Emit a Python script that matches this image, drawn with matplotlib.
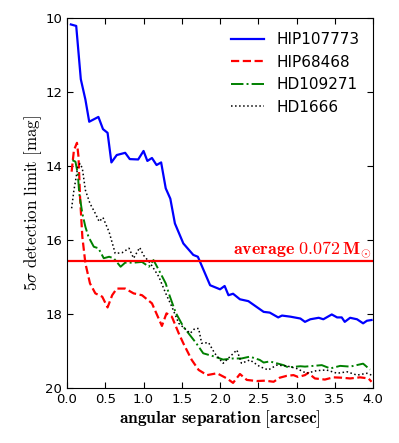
import matplotlib
matplotlib.use("Agg")
import matplotlib.pyplot as plt

plt.rcParams["mathtext.fontset"] = "cm"

# HIP107773 (blue, solid)
sep_hip107773 = [0.05, 0.12, 0.18, 0.24, 0.29, 0.41, 0.47, 0.53, 0.58, 0.65,
                 0.76, 0.82, 0.93, 1.00, 1.05, 1.11, 1.17, 1.23, 1.29, 1.35,
                 1.41, 1.52, 1.65, 1.71, 1.87, 2.00, 2.06, 2.11, 2.17, 2.26,
                 2.37, 2.57, 2.65, 2.76, 2.81, 2.92, 3.05, 3.11, 3.18, 3.29,
                 3.35, 3.46, 3.53, 3.59, 3.63, 3.70, 3.79, 3.87, 3.92, 3.98]
mag_hip107773 = [10.17, 10.21, 11.65, 12.20, 12.80, 12.67, 13.00, 13.10, 13.90, 13.70,
                 13.64, 13.81, 13.82, 13.59, 13.86, 13.78, 13.97, 13.90, 14.60, 14.88,
                 15.55, 16.09, 16.40, 16.45, 17.22, 17.33, 17.24, 17.49, 17.45, 17.60,
                 17.65, 17.94, 17.96, 18.09, 18.04, 18.07, 18.12, 18.21, 18.14, 18.10,
                 18.14, 18.01, 18.09, 18.09, 18.21, 18.10, 18.14, 18.25, 18.18, 18.16]

# HIP68468 (red, dashed)
sep_hip68468 = [0.06, 0.09, 0.13, 0.15, 0.17, 0.20, 0.24, 0.30, 0.37, 0.46,
                0.53, 0.59, 0.65, 0.76, 0.87, 0.98, 1.11, 1.24, 1.30, 1.37,
                1.46, 1.52, 1.63, 1.72, 1.83, 1.96, 2.09, 2.17, 2.26, 2.35,
                2.48, 2.59, 2.70, 2.78, 2.87, 2.96, 3.02, 3.11, 3.15, 3.24,
                3.37, 3.48, 3.59, 3.70, 3.83, 3.94, 3.98]
mag_hip68468 = [14.15, 13.57, 13.37, 13.75, 14.83, 15.91, 16.63, 17.17, 17.44, 17.53,
                17.82, 17.49, 17.31, 17.31, 17.44, 17.49, 17.71, 18.32, 17.98, 18.07,
                18.52, 18.79, 19.24, 19.51, 19.65, 19.60, 19.74, 19.86, 19.62, 19.78,
                19.81, 19.80, 19.83, 19.72, 19.67, 19.65, 19.70, 19.65, 19.59, 19.74,
                19.77, 19.71, 19.72, 19.74, 19.71, 19.74, 19.83]

# HD109271 (green, dash-dot)
sep_hd109271 = [0.07, 0.11, 0.14, 0.16, 0.20, 0.24, 0.28, 0.35, 0.41, 0.48,
                0.55, 0.61, 0.70, 0.76, 0.87, 0.98, 1.07, 1.13, 1.20, 1.29,
                1.33, 1.42, 1.52, 1.69, 1.78, 1.93, 2.04, 2.17, 2.28, 2.39,
                2.52, 2.57, 2.65, 2.83, 2.89, 3.05, 3.11, 3.22, 3.33, 3.44,
                3.57, 3.70, 3.87, 3.96]
mag_hd109271 = [13.84, 13.88, 14.20, 14.74, 15.28, 15.64, 15.91, 16.18, 16.22, 16.49,
                16.45, 16.49, 16.72, 16.61, 16.61, 16.59, 16.72, 16.54, 16.81, 17.17,
                17.44, 17.96, 18.34, 18.79, 19.06, 19.15, 19.23, 19.20, 19.20, 19.15,
                19.24, 19.31, 19.28, 19.38, 19.44, 19.41, 19.42, 19.40, 19.38, 19.47,
                19.40, 19.42, 19.34, 19.50]

# HD1666 (black, dotted)
sep_hd1666 = [0.06, 0.09, 0.12, 0.14, 0.17, 0.20, 0.24, 0.30, 0.37, 0.42,
              0.47, 0.55, 0.63, 0.72, 0.81, 0.87, 0.95, 1.00, 1.09, 1.20,
              1.29, 1.37, 1.46, 1.61, 1.67, 1.72, 1.76, 1.85, 1.93, 2.04,
              2.13, 2.22, 2.28, 2.39, 2.52, 2.63, 2.74, 2.87, 3.00, 3.13,
              3.26, 3.39, 3.53, 3.66, 3.79, 3.92, 3.98]
mag_hd1666 = [15.14, 14.65, 14.29, 14.02, 13.93, 14.06, 14.65, 15.01, 15.28, 15.50,
              15.39, 15.78, 16.36, 16.34, 16.22, 16.49, 16.20, 16.41, 16.63, 16.99,
              17.44, 17.80, 18.25, 18.52, 18.39, 18.39, 18.79, 18.77, 19.06, 19.33,
              19.15, 18.97, 19.33, 19.24, 19.42, 19.51, 19.38, 19.40, 19.47, 19.60,
              19.53, 19.51, 19.60, 19.56, 19.65, 19.60, 19.65]

avg_limit = 16.57
avg_label = r"$\mathbf{average\ 0.072\,M_{\odot}}$"

fig = plt.figure(figsize=(3.99, 4.43), dpi=100)
ax = fig.add_axes([0.168, 0.124, 0.767, 0.835])

ax.plot(sep_hip107773, mag_hip107773, color="b", ls="-", lw=1.6, label="HIP107773")
ax.plot(sep_hip68468, mag_hip68468, color="r", ls="--", lw=1.6, label="HIP68468")
ax.plot(sep_hd109271, mag_hd109271, color="g", ls="-.", lw=1.4, label="HD109271")
ax.plot(sep_hd1666, mag_hd1666, color="k", ls=":", lw=1.1, label="HD1666")

ax.axhline(avg_limit, color="r", lw=1.6)
ax.text(3.98, avg_limit - 0.04, avg_label, color="r", fontsize=13,
        ha="right", va="bottom")

ax.set_xlim(0, 4)
ax.set_ylim(20, 10)
ax.set_xticks([0, 0.5, 1, 1.5, 2, 2.5, 3, 3.5, 4])
ax.set_yticks([10, 12, 14, 16, 18, 20])
ax.tick_params(direction="in", top=True, right=True, labelsize=9.5, length=4)

ax.set_xlabel(r"$\mathbf{angular\ separation\ [arcsec]}$", fontsize=12.5,
              labelpad=2)
ax.set_ylabel(r"$5\sigma\ \mathrm{detection\ limit\ [mag]}$", fontsize=12.2,
              labelpad=1)

ax.legend(loc="upper right", frameon=False, fontsize=11, handlelength=2.15,
          labelspacing=0.5)

fig.savefig("out.png", dpi=100)
